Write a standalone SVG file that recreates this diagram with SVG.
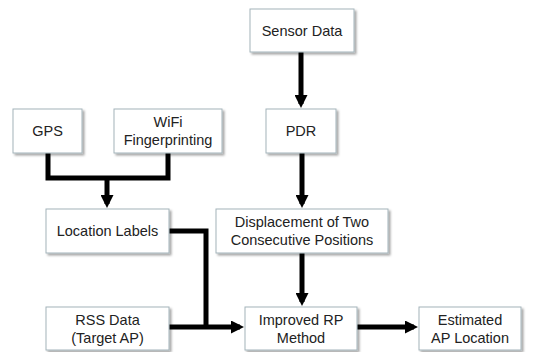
<svg xmlns="http://www.w3.org/2000/svg" width="539" height="352" viewBox="0 0 539 352">
<defs>
<filter id="sh" x="-10%" y="-10%" width="130%" height="140%">
<feDropShadow dx="2" dy="2" stdDeviation="1.2" flood-color="#000" flood-opacity="0.35"/>
</filter>
<marker id="ah" markerWidth="13" markerHeight="13" refX="9" refY="6.5" orient="auto" markerUnits="userSpaceOnUse">
<path d="M0,0 L13,6.5 L0,13 Z" fill="#000"/>
</marker>
</defs>
<style>
.box{fill:#fff;stroke:#a3b3ba;stroke-width:1;filter:url(#sh)}
.t{font-family:"Liberation Sans",Arial,sans-serif;font-size:14.5px;fill:#222;text-anchor:middle}
.c{fill:none;stroke:#000;stroke-width:5}
</style>
<g id="connectors">
<path class="c" d="M301,52 V104" marker-end="url(#ah)"/>
<path class="c" d="M48,153 V178 H168 V153"/>
<path class="c" d="M107,178 V204" marker-end="url(#ah)"/>
<path class="c" d="M302,153 V204" marker-end="url(#ah)"/>
<path class="c" d="M302,253 V302" marker-end="url(#ah)"/>
<path class="c" d="M169,231 H206 V327"/>
<path class="c" d="M169,327 H240" marker-end="url(#ah)"/>
<path class="c" d="M357,327 H414" marker-end="url(#ah)"/>
</g>
<g id="sensor"><rect class="box" x="250" y="9" width="104" height="43"/><text class="t" x="302" y="35.5">Sensor Data</text></g>
<g id="gps"><rect class="box" x="13" y="109" width="69" height="44"/><text class="t" x="47.5" y="136">GPS</text></g>
<g id="wifi"><rect class="box" x="114" y="109" width="108" height="44"/><text class="t" x="168" y="127">WiFi</text><text class="t" x="168" y="145">Fingerprinting</text></g>
<g id="pdr"><rect class="box" x="266" y="109" width="70" height="44"/><text class="t" x="301" y="136">PDR</text></g>
<g id="loc"><rect class="box" x="46" y="209" width="123" height="44"/><text class="t" x="107.5" y="236">Location Labels</text></g>
<g id="disp"><rect class="box" x="216" y="209" width="172" height="44"/><text class="t" x="302" y="227">Displacement of Two</text><text class="t" x="302" y="245">Consecutive Positions</text></g>
<g id="rss"><rect class="box" x="46" y="307" width="123" height="43"/><text class="t" x="107.5" y="325">RSS Data</text><text class="t" x="107.5" y="343">(Target AP)</text></g>
<g id="irp"><rect class="box" x="245" y="307" width="112" height="43"/><text class="t" x="301" y="325">Improved RP</text><text class="t" x="301" y="343">Method</text></g>
<g id="est"><rect class="box" x="419" y="307" width="102" height="43"/><text class="t" x="470" y="325">Estimated</text><text class="t" x="470" y="343">AP Location</text></g>
</svg>
